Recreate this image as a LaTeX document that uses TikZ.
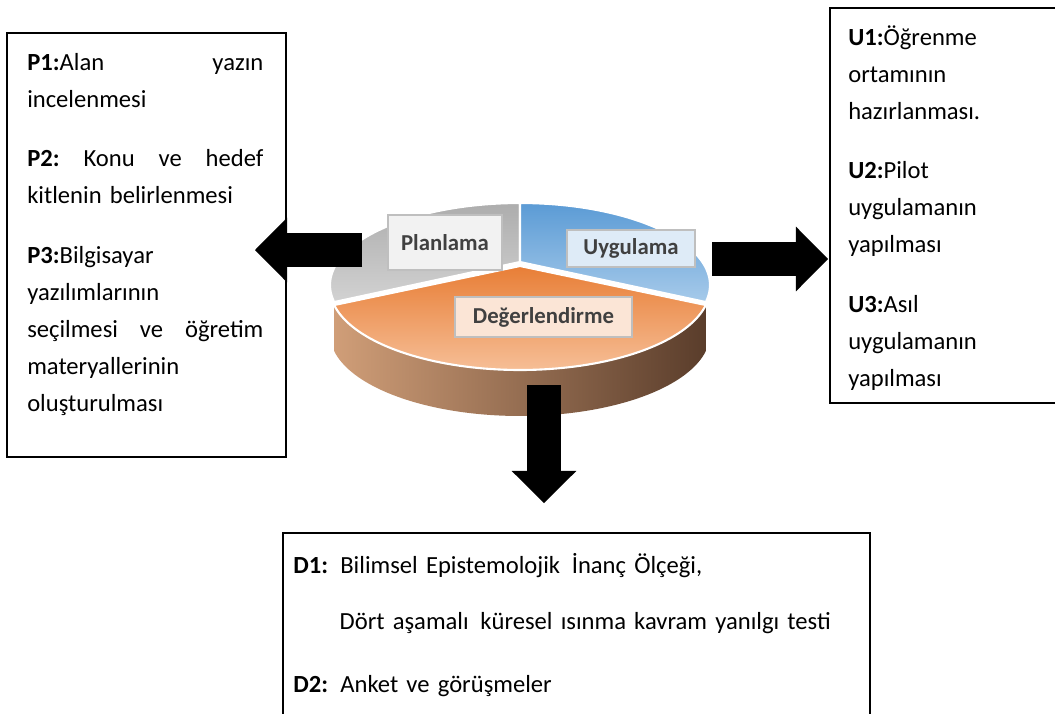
\documentclass[tikz,border=0pt]{standalone}
\usepackage{fontspec}
\setmainfont{Carlito}
\usetikzlibrary{arrows.meta}
\definecolor{sideL}{HTML}{D09E78}
\definecolor{sideR}{HTML}{5A3D2B}
\definecolor{orT}{HTML}{E87E36}
\definecolor{orB}{HTML}{F6BE96}
\definecolor{bluT}{HTML}{5B9BD5}
\definecolor{bluB}{HTML}{A6CAEA}
\definecolor{grT}{HTML}{ADADAD}
\definecolor{grB}{HTML}{D2D2D2}
\definecolor{labborder}{HTML}{BFBFBF}
\definecolor{labtext}{HTML}{404040}
\definecolor{labPfill}{HTML}{F2F2F2}
\definecolor{labUfill}{HTML}{DEEBF7}
\definecolor{labDfill}{HTML}{FBE5D6}
\begin{document}
\begin{tikzpicture}[x=0.025cm,y=-0.025cm,
  boxstyle/.style={draw=black, line width=1.1pt, inner sep=0pt, fill=white},
  txt/.style={anchor=north west, inner sep=0pt, align=left,
    font=\fontsize{17.5}{26.3}\selectfont},
  lab/.style={draw=labborder, line width=0.9pt, inner sep=0pt,
    font=\fontsize{16.2}{19}\selectfont\bfseries, text=labtext},
  bigarrow/.style={draw=black, line width=23.5pt,
    -{Triangle[length=22.8pt,width=46pt,line width=0pt]}},
  slice/.style={draw=white, line width=1.5pt}
]
\useasboundingbox (0,0) rectangle (1055,713);
\clip (0,0) rectangle (1055,713);

% boxes
\node[boxstyle, minimum width=6.975cm, minimum height=10.6cm] (boxP) at (146.5,245) {};
\node[boxstyle, minimum width=6.25cm, minimum height=9.875cm] (boxU) at (955,205.5) {};
\node[boxstyle, minimum width=14.675cm, minimum height=6.175cm] (boxD) at (576.5,656.5) {};

% box texts
\node[txt, text width=5.9cm] (txtP) at (27,44) {\strut\textbf{P1:}Alan\hfill yazın\\
incelenmesi\\[16pt]
\textbf{P2:}\hfill Konu\hfill ve\hfill hedef\\
kitlenin belirlenmesi\\[16pt]
\textbf{P3:}Bilgisayar\\
yazılımlarının\\
seçilmesi\hfill ve\hfill öğretim\\
materyallerinin\\
oluşturulması};

\node[txt, text width=4.5cm] (txtU) at (848,19) {\strut\textbf{U1:}Öğrenme\\
ortamının\\
hazırlanması.\\[16pt]
\textbf{U2:}Pilot\\
uygulamanın\\
yapılması\\[16pt]
\textbf{U3:}Asıl\\
uygulamanın\\
yapılması};

\node[txt, text width=14cm] (txtD) at (293,547) {\strut\textbf{D1:} Bilimsel Epistemolojik\hspace{2.5pt} İnanç Ölçeği,\\[14pt]
\hspace*{33pt}Dört aşamalı\hspace{2.5pt} küresel ısınma kavram yanılgı testi\\[18.5pt]
\textbf{D2:} Anket ve görüşmeler};

% pie chart
\coordinate (pie) at (520,285);
\shade[left color=sideL, right color=sideR]
  plot[domain=168:12, samples=80] ({520+190*cos(\x)},{288+82*sin(\x)})
  -- plot[domain=12:168, samples=80] ({520+190*cos(\x)},{334+82*sin(\x)}) -- cycle;
\shadedraw[slice, top color=grT, bottom color=grB]
  (520,262) -- plot[domain=270:168, samples=60] ({520+190*cos(\x)},{285+82*sin(\x)}) -- cycle;
\shadedraw[slice, top color=bluT, bottom color=bluB]
  (520,262) -- plot[domain=270:372, samples=60] ({520+190*cos(\x)},{285+82*sin(\x)}) -- cycle;
\shadedraw[slice, top color=orT, bottom color=orB]
  (520,266) -- plot[domain=168:12, samples=80] ({520+190*cos(\x)},{288+82*sin(\x)}) -- cycle;

% slice labels
\node[lab, fill=labPfill, minimum width=2.85cm, minimum height=1.375cm] (labP) at (445,242.5) {Planlama};
\node[lab, fill=labUfill, minimum width=3.2cm, minimum height=0.925cm] (labU) at (631,248.5) {Uygulama};
\node[lab, fill=labDfill, minimum width=4.425cm, minimum height=1.0cm] (labD) at (543.5,317) {Değerlendirme};

% block arrows
\coordinate (aLs) at (362,250);
\coordinate (aLt) at (255,250);
\coordinate (aRs) at (712,259);
\coordinate (aRt) at (828,259);
\coordinate (aDs) at (544,385);
\coordinate (aDt) at (544,503);
\draw[bigarrow] (aLs) -- (aLt);
\draw[bigarrow] (aRs) -- (aRt);
\draw[bigarrow] (aDs) -- (aDt);
\end{tikzpicture}
\end{document}
